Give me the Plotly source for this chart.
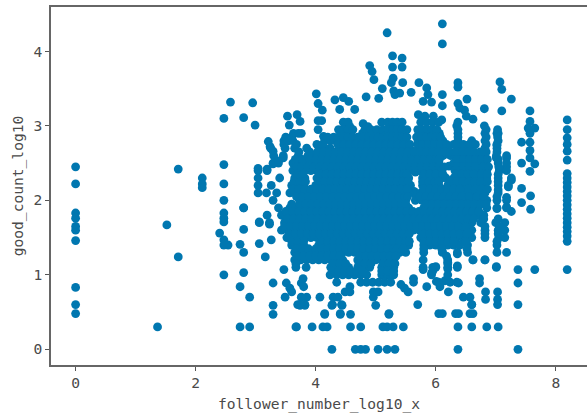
import plotly.graph_objects as go

# follower_number_log10_x / good_count_log10
sparse_x = [0,0,0,0,0,0,0,0,0,0,
 1.365,1.52,1.71,1.71,2.11,2.11,2.11,
 2.47,2.47,2.47,2.47,2.47,2.47,2.40,2.47,2.54,2.47,2.47,
 2.58,2.95,2.47,2.80,2.99,2.80,2.80,2.74,2.80,2.80,2.74,2.90,
 3.06,3.26,3.16,3.06,3.23,3.47,3.29,3.51,3.57,3.60,3.49,3.29,3.29,
 3.79,3.76,3.80,3.85,3.76,3.74,3.82,4.07,4.15,4.29,4.37,4.27,4.44,4.41,4.58,4.49,4.57,4.57,5.0,4.96,4.96,5.04,5.22,
 5.48,5.54,5.42,5.63,5.85,5.79,5.93,6.00,6.01,6.07,6.15,6.24,6.21,6.38,6.20,6.36,6.20,6.11,6.36,
 6.62,6.82,7.01,7.37,7.65,8.19,7.37,6.73,6.73,6.83,6.83,7.03,7.03,7.03,6.46,6.57,6.60,7.37,
 4.27,4.66,4.75,4.83,5.04,5.19,5.32,6.37,7.37,
 2.74,2.90,3.67,3.68,3.94,4.12,4.19,4.58,4.75,5.12,5.19,5.29,5.46,6.37,6.60,6.85,7.04,
 4.15,4.41,5.22,6.05,6.11,6.33,6.38,6.57,6.62,
 3.70,3.73,3.82,4.28,4.43,5.70,6.60,
 5.19,6.11,6.11,5.28,5.44,5.44,5.28,4.90,4.94,4.97,5.29,5.26,5.45,5.72,6.37,6.37,7.07,7.10,7.26,
 5.85,5.59,5.11,5.05,4.84,6.11,5.30,5.32,5.40,5.87,5.79,5.93,6.11,6.52,6.37,6.40,6.48,6.51,6.62,6.81,7.10,
 7.57,7.57,7.54,7.65,7.57,7.57,7.57,7.43,7.57,7.43,7.65,7.57,
 4.01,4.04,4.11,4.04,4.10,4.04,4.13,4.32,4.46,4.55,4.40,4.65,
 3.53,3.69,3.56,3.74,3.21,3.24,3.29,3.46,3.38,3.29,3.19,3.04,
 4.49,4.57,4.79,4.87,5.71,5.82,5.96,6.10,6.35,6.81,
 7.04,7.02,7.01,7.18,7.18,7.06,7.26,7.04,7.21,7.18,7.43,7.58,7.43,7.58,7.02,7.18,7.26,
 8.19,8.19,8.19,8.19,8.19,8.19,8.19,8.19,8.19,8.19,8.19,8.19,8.19,8.19,8.19,8.19,8.19,8.19,8.19,8.19,8.19,8.19,
 5.62,5.62,5.62,5.62,5.64,5.64,5.66,5.66,5.64,5.66,5.66,
 6.20,6.20,6.22,6.17,6.14,6.14,6.20,6.22]
sparse_y = [2.45,2.22,1.83,1.76,1.65,1.60,1.46,0.83,0.60,0.48,
 0.30,1.67,1.24,2.42,2.30,2.22,2.17,
 2.48,2.22,2.00,1.83,1.76,1.71,1.56,1.47,1.40,1.40,1.00,
 3.32,3.31,3.10,3.11,3.01,1.90,1.61,1.41,1.30,1.03,0.84,0.70,
 1.42,1.47,1.24,1.71,1.68,1.07,0.89,0.89,0.82,0.77,0.70,0.59,0.47,
 0.95,0.89,0.84,0.70,0.70,0.59,0.59,0.70,0.47,0.70,0.70,0.59,0.59,0.47,0.47,0.77,0.84,0.77,0.59,0.70,0.77,0.77,0.47,
 0.82,0.77,0.87,0.95,0.84,1.07,1.02,1.11,0.91,0.84,0.92,0.90,0.77,0.89,1.17,1.12,1.08,1.31,1.28,
 1.20,1.20,1.11,1.07,1.07,1.07,0.89,0.95,0.89,0.77,0.67,0.77,0.67,0.60,0.70,0.70,0.60,0.60,
 0,0,0,0,0,0,0,0,0,
 0.30,0.30,0.30,0.30,0.30,0.30,0.30,0.30,0.30,0.30,0.30,0.30,0.30,0.30,0.30,0.30,0.30,
 0.48,0.48,0.48,0.48,0.48,0.48,0.48,0.48,0.48,
 0.60,0.60,0.60,0.60,0.60,0.60,0.60,
 4.25,4.37,4.10,3.94,3.91,3.79,3.79,3.81,3.73,3.62,3.64,3.58,3.58,3.58,3.58,3.52,3.59,3.49,3.36,
 3.51,3.45,3.50,3.37,3.39,3.42,3.47,3.42,3.44,3.42,3.33,3.32,3.27,3.36,3.30,3.24,3.21,3.13,3.09,3.23,3.20,
 3.20,3.06,2.97,2.97,2.90,2.78,2.67,2.78,2.57,2.50,2.49,2.39,
 3.43,3.30,3.21,3.07,3.07,2.95,2.86,3.35,3.38,3.33,3.22,3.22,
 3.13,3.15,3.01,3.06,2.79,2.72,2.66,2.57,2.53,2.49,2.42,2.43,
 3.04,2.99,3.03,2.99,3.15,3.13,3.13,3.08,3.00,3.00,
 2.90,2.74,2.57,2.57,2.45,2.41,2.27,2.14,2.18,2.04,2.16,2.06,1.97,1.88,1.89,1.91,1.85,
 3.08,2.95,2.84,2.75,2.66,2.54,2.36,2.30,2.24,2.18,2.12,2.06,2.00,1.94,1.88,1.82,1.76,1.70,1.64,1.58,1.52,1.45,
 2.66,2.58,2.48,2.42,2.62,2.52,2.46,2.38,2.12,2.08,2.00,
 2.72,2.62,2.46,2.30,2.14,2.04,1.88,1.80]

core_y = [2.9,2.8,2.7,2.6,2.5,2.4,2.3,2.2,2.1,2.0,1.9,1.8,1.7,1.6,1.5,1.4,1.3,1.2,1.1,1.0,0.9]
core_x = [
 [3.63,3.71,3.76,4.42,4.50,4.58,4.78,4.86,5.00,5.08,5.16,5.24,5.32,5.40,5.48,5.72,5.80,5.88,5.96,6.06,6.37,6.82,7.02],
 [3.47,3.55,3.62,4.15,4.25,4.33,4.41,4.49,4.57,4.65,4.75,4.83,4.91,4.99,5.07,5.15,5.23,5.31,5.39,5.47,5.71,5.79,5.87,5.95,6.03,6.12,6.37,6.60,6.82,7.04],
 [3.25,3.49,3.65,3.85,4.06,4.15,4.24,4.42,4.52,4.62,4.72,4.82,4.92,5.02,5.12,5.22,5.32,5.42,5.52,5.72,5.82,5.92,6.02,6.12,6.37,6.48,6.60,6.82,7.02],
 [3.30,3.46,3.71,3.87,3.98,4.08,4.18,4.28,4.38,4.48,4.58,4.68,4.78,4.88,4.98,5.08,5.18,5.28,5.38,5.48,5.58,5.72,5.82,5.92,6.02,6.12,6.25,6.37,6.47,6.57,6.67,6.82,7.01,7.18],
 [3.29,3.38,3.62,3.72,3.85,3.96,4.06,4.16,4.26,4.36,4.46,4.56,4.66,4.76,4.86,4.96,5.06,5.16,5.26,5.36,5.46,5.56,5.75,5.85,5.95,6.05,6.30,6.40,6.50,6.60,6.70,6.82,7.04,7.18],
 [3.04,3.19,3.62,3.72,3.82,3.92,4.02,4.12,4.22,4.32,4.42,4.52,4.62,4.72,4.82,4.92,5.02,5.12,5.22,5.32,5.42,5.52,5.62,5.72,5.82,5.92,6.02,6.10,6.32,6.42,6.52,6.62,6.72,6.85,7.06,7.18],
 [3.04,3.40,3.65,3.75,3.82,4.02,4.12,4.22,4.32,4.42,4.52,4.62,4.72,4.82,4.92,5.02,5.12,5.22,5.32,5.42,5.55,5.78,5.88,5.98,6.10,6.30,6.40,6.50,6.60,6.72,6.85,7.04,7.26],
 [3.04,3.26,3.60,3.70,3.80,4.00,4.10,4.20,4.30,4.40,4.50,4.60,4.70,4.80,4.90,5.00,5.10,5.20,5.30,5.40,5.50,5.58,5.78,5.88,5.98,6.05,6.20,6.30,6.40,6.50,6.60,6.70,6.80,7.04,7.21],
 [3.04,3.18,3.35,3.57,3.67,3.77,3.87,3.97,4.07,4.17,4.27,4.37,4.47,4.57,4.67,4.77,4.87,4.97,5.07,5.17,5.27,5.37,5.47,5.55,5.75,5.85,5.95,6.05,6.15,6.25,6.35,6.45,6.60,6.70,6.82,7.04],
 [3.29,3.73,3.83,3.93,4.03,4.13,4.23,4.33,4.43,4.53,4.63,4.73,4.83,4.93,5.03,5.13,5.23,5.33,5.43,5.50,5.77,5.87,5.97,6.07,6.17,6.27,6.37,6.50,6.62,6.75,6.85,7.02,7.18],
 [2.80,3.38,3.57,3.68,3.78,3.88,3.98,4.08,4.18,4.28,4.38,4.48,4.58,4.68,4.78,4.88,4.98,5.08,5.18,5.28,5.38,5.48,5.55,5.80,5.90,6.00,6.10,6.20,6.30,6.40,6.50,6.60,6.70,6.85,7.02,7.18],
 [3.19,3.43,3.53,3.63,3.73,3.83,3.93,4.03,4.13,4.23,4.33,4.43,4.53,4.63,4.73,4.83,4.93,5.03,5.13,5.23,5.33,5.43,5.53,5.60,5.70,5.80,5.90,6.00,6.10,6.20,6.30,6.40,6.50,6.60,6.70,6.80],
 [3.06,3.23,3.48,3.58,3.68,3.78,3.88,3.98,4.08,4.18,4.28,4.38,4.48,4.58,4.68,4.78,4.88,4.98,5.08,5.18,5.28,5.38,5.48,5.60,5.70,5.80,5.90,6.00,6.10,6.20,6.30,6.40,6.50,6.60,6.75,7.00,7.15],
 [3.43,3.53,3.63,3.73,3.83,3.93,4.03,4.13,4.23,4.33,4.43,4.53,4.63,4.73,4.83,4.93,5.03,5.13,5.23,5.33,5.43,5.53,5.63,5.73,5.83,5.93,6.03,6.13,6.23,6.33,6.45,6.60,6.82,7.04,7.15],
 [3.52,3.62,3.72,3.82,3.92,4.02,4.12,4.22,4.32,4.42,4.52,4.62,4.72,4.82,4.92,5.02,5.12,5.22,5.32,5.42,5.52,5.75,5.85,5.95,6.05,6.15,6.25,6.35,6.45,6.60,6.82,7.05,7.15],
 [3.60,3.70,3.80,4.05,4.15,4.25,4.35,4.45,4.55,4.65,4.75,4.85,4.95,5.05,5.15,5.25,5.35,5.45,5.55,5.80,5.90,6.00,6.10,6.20,6.30,6.40,6.53,7.02],
 [3.65,3.75,3.85,3.95,4.05,4.15,4.25,4.35,4.45,4.55,4.65,4.75,4.85,4.95,5.05,5.15,5.25,5.35,5.40,5.50,5.80,6.11,6.36,6.53,7.02,7.18],
 [3.65,3.75,3.85,3.95,4.05,4.15,4.25,4.35,4.45,4.70,4.80,4.90,5.00,5.10,5.20,5.30,5.79,6.20,6.62,6.82],
 [3.67,3.84,4.25,4.35,4.45,4.55,4.70,4.80,4.90,5.10,5.20,5.30,5.79,5.95,6.00,6.20,6.36,7.01],
 [4.24,4.35,4.45,4.55,4.65,4.75,4.85,5.10,5.20,5.30,5.93,6.20],
 [4.35,4.75,4.85,4.95,5.05,5.15,5.25,5.63,6.05,6.35],
]

# second pass of the dense region, read between the rows above
fill_y = [3.05,2.95,2.85,2.75,2.65,2.55,2.45,2.35,2.25,2.15,2.05,1.95,1.85,1.75,1.65,1.55,1.45,1.35,1.25,1.15,1.05]
fill_x = [
 [4.46,4.54,5.10,5.20,5.28,5.36,5.44,5.75,5.85,5.95,6.05,6.37],
 [4.38,4.46,4.54,4.62,4.82,4.92,5.02,5.12,5.20,5.28,5.36,5.44,5.52,5.70,5.78,5.86,5.94,6.02,6.37,6.84,7.03],
 [3.50,3.60,4.20,4.30,4.38,4.46,4.54,4.62,4.70,4.80,4.88,4.96,5.04,5.12,5.20,5.28,5.36,5.44,5.52,5.68,5.76,5.84,5.92,6.00,6.08,6.37,6.84,7.03],
 [3.47,3.68,4.02,4.12,4.37,4.47,4.57,4.67,4.77,4.87,4.97,5.07,5.17,5.27,5.37,5.47,5.57,5.70,5.78,5.88,5.98,6.08,6.18,6.30,6.37,6.46,6.56,6.66,6.84,7.02],
 [3.72,3.90,4.03,4.13,4.23,4.33,4.43,4.53,4.63,4.73,4.83,4.93,5.03,5.13,5.23,5.33,5.43,5.53,5.64,5.74,5.84,5.94,6.04,6.14,6.24,6.34,6.44,6.54,6.64,6.74,6.84,7.02],
 [3.66,3.78,3.90,4.01,4.11,4.21,4.31,4.41,4.51,4.61,4.71,4.81,4.91,5.01,5.11,5.21,5.31,5.41,5.51,5.60,5.70,5.80,5.90,6.00,6.06,6.36,6.46,6.56,6.66,6.76,6.86,7.04],
 [3.68,3.77,3.87,3.97,4.07,4.17,4.27,4.37,4.47,4.57,4.67,4.77,4.87,4.97,5.07,5.17,5.27,5.37,5.47,5.57,5.66,5.76,5.86,5.96,6.06,6.14,6.36,6.46,6.56,6.66,6.78,6.88,7.05],
 [3.70,3.78,4.07,4.17,4.27,4.37,4.47,4.57,4.67,4.77,4.87,4.97,5.07,5.17,5.27,5.37,5.47,5.52,5.80,5.90,6.00,6.12,6.34,6.44,6.54,6.64,6.76,6.86,7.04],
 [3.64,3.74,3.83,4.05,4.15,4.25,4.35,4.45,4.55,4.65,4.75,4.85,4.95,5.05,5.15,5.25,5.35,5.45,5.54,5.78,5.88,5.98,6.05,6.25,6.35,6.45,6.55,6.65,6.75,6.86,7.04],
 [3.62,3.72,3.82,3.92,4.02,4.12,4.22,4.32,4.42,4.52,4.62,4.72,4.82,4.92,5.02,5.12,5.22,5.32,5.42,5.52,5.80,5.90,6.00,6.10,6.20,6.30,6.40,6.55,6.66,6.76,6.86],
 [3.68,3.78,3.88,3.98,4.08,4.18,4.28,4.38,4.48,4.58,4.68,4.78,4.88,4.98,5.08,5.18,5.28,5.38,5.48,5.53,5.74,5.84,5.94,6.04,6.14,6.24,6.34,6.44,6.56,6.68,6.80,7.02],
 [3.60,3.73,3.83,3.93,4.03,4.13,4.23,4.33,4.43,4.53,4.63,4.73,4.83,4.93,5.03,5.13,5.23,5.33,5.43,5.50,5.84,5.94,6.04,6.14,6.24,6.34,6.44,6.54,6.64,6.74,6.84],
 [3.50,3.62,3.72,3.82,3.92,4.02,4.12,4.22,4.32,4.42,4.52,4.62,4.72,4.82,4.92,5.02,5.12,5.22,5.32,5.42,5.52,5.62,5.72,5.82,5.92,6.02,6.12,6.22,6.32,6.42,6.52,6.62,6.72],
 [3.53,3.63,3.73,3.83,3.93,4.03,4.13,4.23,4.33,4.43,4.53,4.63,4.73,4.83,4.93,5.03,5.13,5.23,5.33,5.43,5.53,5.63,5.73,5.83,5.93,6.03,6.13,6.23,6.33,6.43,6.53,6.63,6.80,7.04],
 [3.48,3.58,3.68,3.78,3.88,3.98,4.08,4.18,4.28,4.38,4.48,4.58,4.68,4.78,4.88,4.98,5.08,5.18,5.28,5.38,5.48,5.58,5.68,5.78,5.88,5.98,6.08,6.18,6.28,6.38,6.50,6.82,7.06],
 [3.56,3.66,3.76,3.86,3.96,4.06,4.16,4.26,4.36,4.46,4.56,4.66,4.76,4.86,4.96,5.06,5.16,5.26,5.36,5.46,5.56,5.80,5.90,6.00,6.10,6.20,6.30,6.40,6.52,6.82,7.04],
 [3.60,3.70,3.80,4.10,4.20,4.30,4.40,4.50,4.60,4.70,4.80,4.90,5.00,5.10,5.20,5.30,5.40,5.50,5.56,5.80,5.90,6.00,6.10,6.20,6.30,6.50,7.02],
 [3.68,3.78,3.88,4.00,4.10,4.20,4.30,4.40,4.50,4.60,4.70,4.80,4.90,5.00,5.10,5.20,5.30,5.36,5.46,5.80,6.10,6.52],
 [3.70,3.80,3.90,4.00,4.10,4.20,4.30,4.40,4.74,4.84,4.94,5.04,5.14,5.24,5.34,6.18],
 [3.67,4.30,4.40,4.50,4.72,4.82,4.92,5.12,5.22,5.32,6.20],
 [4.28,4.38,4.48,4.58,4.68,4.78,5.10,5.20,5.30,5.95],
]

tick_x = [0,2,4,6,8]
tick_y = [0,1,2,3,4]

xs = list(sparse_x)
ys = list(sparse_y)
for y, row in list(zip(core_y, core_x)) + list(zip(fill_y, fill_x)):
    xs.extend(row)
    ys.extend([y]*len(row))

FONT = "DejaVu Sans Mono"
TEXT = "#4a4a4a"
fig = go.Figure(go.Scatter(x=xs, y=ys, mode="markers",
    marker=dict(color="#0077b0", size=8.8, line=dict(width=0)), showlegend=False))
fig.update_layout(
    width=587, height=417, autosize=False,
    margin=dict(l=51, r=0, t=7, b=52, pad=0),
    paper_bgcolor="white", plot_bgcolor="white",
    font=dict(family=FONT, size=14.6, color=TEXT),
    xaxis=dict(title=dict(text="follower_number_log10_x", standoff=8, font=dict(family=FONT, size=14.6, color=TEXT)),
        range=[-0.41, 8.52], tickvals=tick_x, ticks="outside", ticklen=4, tickwidth=1.3, tickcolor="#555",
        showline=True, linecolor="#666", linewidth=1.6, mirror=True, showgrid=False, zeroline=False),
    yaxis=dict(title=dict(text="good_count_log10", standoff=6, font=dict(family=FONT, size=14.6, color=TEXT)),
        range=[-0.211, 4.596], tickvals=tick_y, ticks="outside", ticklen=4, tickwidth=1.3, tickcolor="#555",
        showline=True, linecolor="#666", linewidth=1.6, mirror=False, showgrid=False, zeroline=False),
)
fig.write_html("out.html", config={"displayModeBar": False},
               post_script="document.body.style.margin='0';document.documentElement.style.overflow='hidden';")
